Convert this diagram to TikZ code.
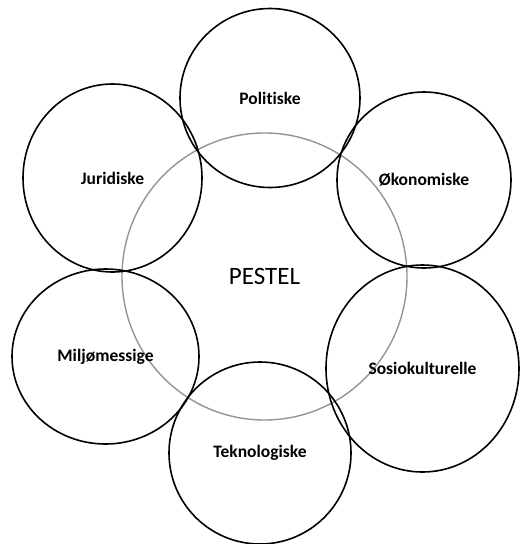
\documentclass[tikz,border=0pt]{standalone}
\usepackage{fontspec}
\setmainfont{Carlito}[Ligatures=NoCommon]
\usetikzlibrary{shapes.geometric}
\tikzset{
  factor/.style={ellipse, draw=black, line width=1.6pt, inner sep=0pt,
    font=\fontsize{17.5}{20}\selectfont\bfseries, text=black},
  core/.style={ellipse, draw=black!42, line width=1.4pt, inner sep=0pt,
    font=\fontsize{25}{28}\selectfont, text=black}
}
\begin{document}
\begin{tikzpicture}[x=1pt,y=-1pt]
\useasboundingbox (0,0) rectangle (520,544);
\node[core, minimum width=285pt, minimum height=287pt] (pestel) at (264.5,276.5) {PESTEL};
\node[factor, minimum width=180pt, minimum height=179pt] (pol) at (270,98) {Politiske};
\node[factor, minimum width=174pt, minimum height=176pt] (oko) at (424,180) {Økonomiske};
\node[factor, minimum width=193pt, minimum height=207pt] (sos) at (422.5,368.5) {Sosiokulturelle};
\node[factor, minimum width=182pt, minimum height=182pt] (tek) at (260,453) {Teknologiske};
\node[factor, minimum width=187pt, minimum height=175pt] (mil) at (105.5,356.5) {Miljømessige};
\node[factor, minimum width=179pt, minimum height=188pt] (jur) at (112.5,178) {Juridiske};
\end{tikzpicture}
\end{document}
